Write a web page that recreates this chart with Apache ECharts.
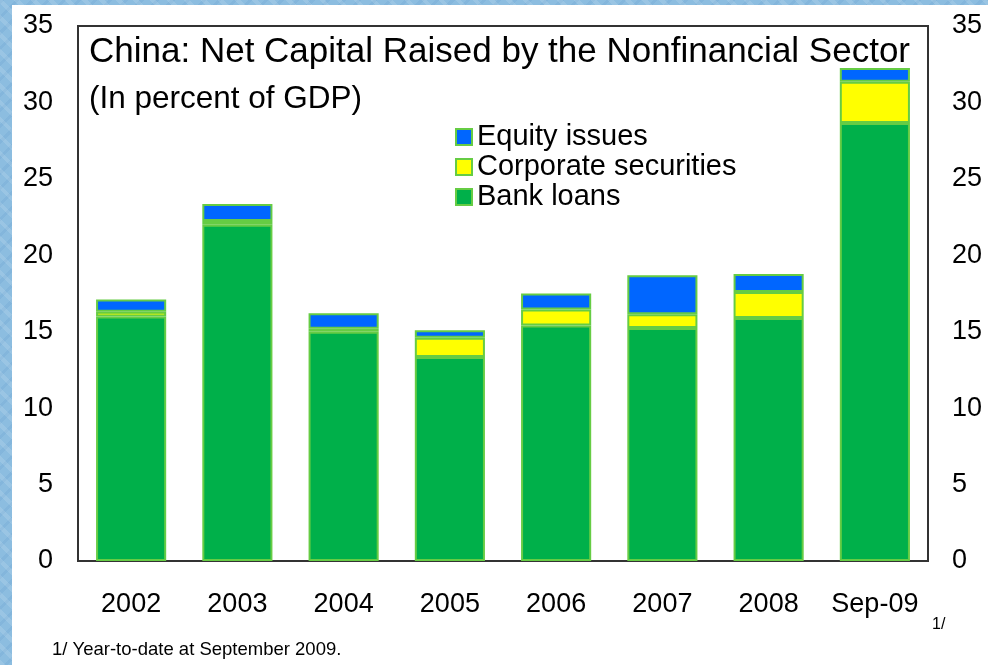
<!DOCTYPE html>
<html>
<head>
<meta charset="utf-8">
<script src="https://cdn.jsdelivr.net/npm/echarts@6/dist/echarts.min.js"></script>
<style>
  html, body { margin: 0; padding: 0; }
  body {
    width: 988px; height: 665px; overflow: hidden; position: relative;
    background-color: #8cbde0;
    background-image:
      repeating-linear-gradient(45deg, rgba(255,255,255,0.12) 0 4px, rgba(0,0,0,0) 4px 12px),
      repeating-linear-gradient(-45deg, rgba(70,130,190,0.12) 0 3px, rgba(0,0,0,0) 3px 11px);
  }
  #paper { position: absolute; left: 12px; top: 5px; width: 976px; height: 660px; background: #fff; }
  #chart { position: absolute; left: 0; top: 0; width: 988px; height: 665px; }
</style>
</head>
<body>
<div id="paper"></div>
<div id="chart"></div>
<script>
const categories = ['2002', '2003', '2004', '2005', '2006', '2007', '2008', 'Sep-09'];
const bankLoans = [16.0, 22.0, 15.0, 13.35, 15.4, 15.25, 15.9, 28.65];
const corporateSecurities = [0.3, 0.25, 0.2, 1.25, 1.05, 0.9, 1.7, 2.7];
const equityIssues = [0.8, 1.1, 1.0, 0.5, 1.05, 2.55, 1.17, 0.9];

const font = 'Liberation Sans, Arial, sans-serif';
const edge = '#66cc44';

const chart = echarts.init(document.getElementById('chart'));

function barSeries(name, data, color) {
    return {
        name: name,
        type: 'bar',
        stack: 'total',
        data: data,
        barWidth: '66%',
        itemStyle: { color: color, borderColor: edge, borderWidth: 2 }
    };
}

const axisLabel = { color: '#000', fontSize: 27, fontFamily: font };

chart.setOption({
    backgroundColor: 'transparent',
    animation: false,
    grid: { left: 78, right: 60, top: 26, bottom: 104, show: true, borderColor: '#333', borderWidth: 2 },
    legend: {
        data: ['Equity issues', 'Corporate securities', 'Bank loans'],
        orient: 'vertical',
        left: 450,
        top: 117,
        icon: 'rect',
        itemWidth: 16,
        itemHeight: 16,
        itemGap: 0,
        textStyle: { color: '#000', fontSize: 29, fontFamily: font, lineHeight: 30 }
    },
    xAxis: {
        type: 'category',
        data: categories,
        axisLine: { show: false },
        axisTick: { show: false },
        axisLabel: Object.assign({ margin: 30, interval: 0 }, axisLabel)
    },
    yAxis: [
        {
            type: 'value', min: 0, max: 35, interval: 5, position: 'left',
            splitLine: { show: false }, axisLine: { show: false }, axisTick: { show: false },
            axisLabel: Object.assign({ margin: 25 }, axisLabel)
        },
        {
            type: 'value', min: 0, max: 35, interval: 5, position: 'right',
            splitLine: { show: false }, axisLine: { show: false }, axisTick: { show: false },
            axisLabel: Object.assign({ margin: 24 }, axisLabel)
        }
    ],
    graphic: [
        { type: 'text', left: 89, top: 35, style: { text: 'China: Net Capital Raised by the Nonfinancial Sector', fontSize: 35, fontFamily: font, fill: '#000' } },
        { type: 'text', left: 89, top: 83, style: { text: '(In percent of GDP)', fontSize: 31.5, fontFamily: font, fill: '#000' } },
        { type: 'text', left: 932, top: 617, style: { text: '1/', fontSize: 16, fontFamily: font, fill: '#000' } },
        { type: 'text', left: 52, top: 640, style: { text: '1/ Year-to-date at September 2009.', fontSize: 18.5, fontFamily: font, fill: '#000' } }
    ],
    series: [
        barSeries('Bank loans', bankLoans, '#00b04a'),
        barSeries('Corporate securities', corporateSecurities, '#ffff00'),
        barSeries('Equity issues', equityIssues, '#0066ff')
    ]
});
</script>
</body>
</html>
